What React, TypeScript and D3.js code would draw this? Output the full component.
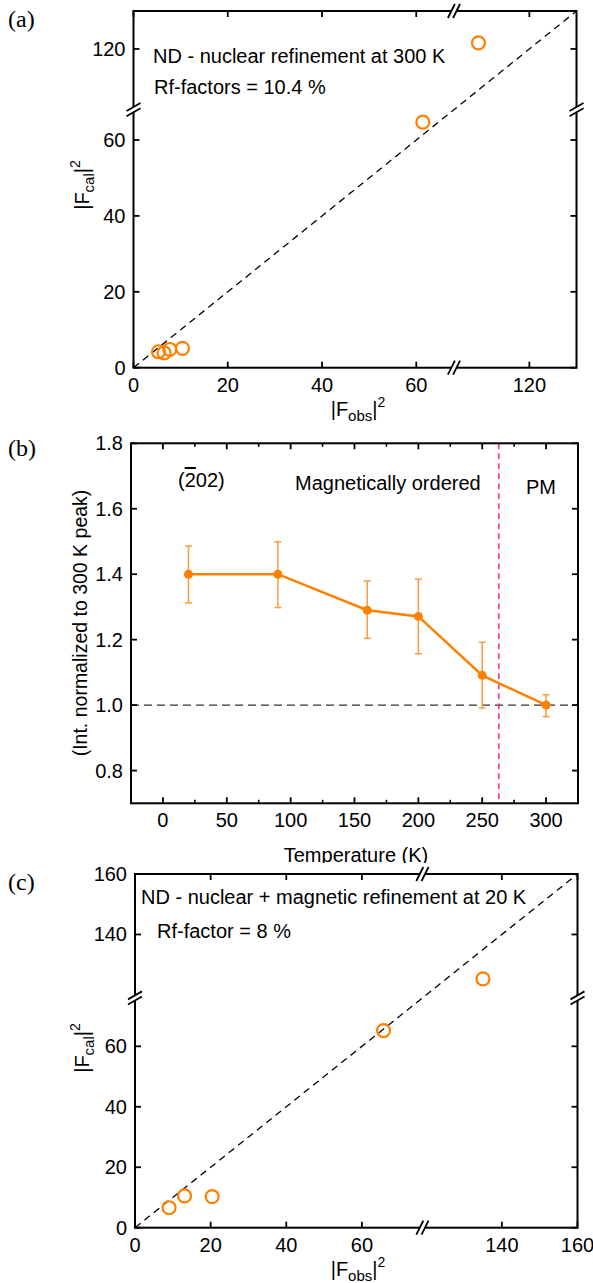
import * as d3 from "d3";

const FONT = "'Liberation Sans', Arial, Helvetica, sans-serif";
const SERIF = "'Liberation Serif', 'Times New Roman', serif";
const FS = 20;
const ORANGE = "#ff8000";
const ERR_ORANGE = "#ff9a3c";

// (a) nuclear refinement at 300 K
const aObs = [5.3, 6.5, 7.7, 10.4, 61.4, 109.2];
const aCal = [4.2, 3.9, 4.8, 5.1, 64.7, 121.6];
const aTicks = [0, 20, 40, 60, 120];
const aDomain = [0, 68, 104, 130];

// (b) (-202) intensity vs temperature
const temps = [20, 90, 160, 200, 250, 300];
const intensity = [1.4, 1.4, 1.29, 1.271, 1.091, 1.0];
const errHigh = [1.486, 1.499, 1.379, 1.385, 1.192, 1.032];
const errLow = [1.312, 1.298, 1.204, 1.157, 0.991, 0.965];
const bXTicks = [0, 50, 100, 150, 200, 250, 300];
const bXMinor = [25, 75, 125, 175, 225, 275];
const bYTicks = [0.8, 1.0, 1.2, 1.4, 1.6, 1.8];
const tOrder = 263;

// (c) nuclear + magnetic refinement at 20 K
const cObs = [9.0, 13.1, 20.4, 65.7, 135];
const cCal = [6.6, 10.5, 10.3, 65.2, 125.3];
const cTicks = [0, 20, 40, 60, 140, 160];
const cDomain = [0, 76, 119, 160];

type Box = { left: number; right: number; top: number; bottom: number };

function brokenScale(domain: number[], r0: number, r1: number) {
  const span = domain[1] - domain[0] + (domain[3] - domain[2]);
  const mid = r0 + ((domain[1] - domain[0]) / span) * (r1 - r0);
  return d3.scaleLinear().domain(domain).range([r0, mid, mid, r1]);
}

function HBreak({ x, y }: { x: number; y: number }) {
  const pts = [-2.6, 2.6].map((o) => [
    [x + o - 3.5, y + 7],
    [x + o + 3.5, y - 7],
  ]);
  return (
    <g>
      <polygon
        points={`${pts[0][0]} ${pts[0][1]} ${pts[1][1]} ${pts[1][0]}`.replace(/,/g, " ")}
        fill="white"
      />
      {pts.map((p, i) => (
        <line key={i} x1={p[0][0]} y1={p[0][1]} x2={p[1][0]} y2={p[1][1]} stroke="black" strokeWidth={1.8} />
      ))}
    </g>
  );
}

function VBreak({ x, y }: { x: number; y: number }) {
  const pts = [-2.6, 2.6].map((o) => [
    [x - 7, y + o + 4],
    [x + 7, y + o - 4],
  ]);
  return (
    <g>
      <polygon
        points={`${pts[0][0]} ${pts[0][1]} ${pts[1][1]} ${pts[1][0]}`.replace(/,/g, " ")}
        fill="white"
      />
      {pts.map((p, i) => (
        <line key={i} x1={p[0][0]} y1={p[0][1]} x2={p[1][0]} y2={p[1][1]} stroke="black" strokeWidth={1.8} />
      ))}
    </g>
  );
}

function FLabel({ x, y, sub, rotate }: { x: number; y: number; sub: string; rotate?: boolean }) {
  return (
    <text
      x={x}
      y={y}
      transform={rotate ? `rotate(-90 ${x} ${y})` : undefined}
      textAnchor="middle"
      fontFamily={FONT}
      fontSize={FS}
    >
      |F
      <tspan dy={5} fontSize={15}>{sub}</tspan>
      <tspan dy={-5}>|</tspan>
      <tspan dy={-9} fontSize={14}>2</tspan>
    </text>
  );
}

function Scatter({
  box,
  domain,
  ticks,
  obs,
  cal,
  lines,
  yLabelY,
}: {
  box: Box;
  domain: number[];
  ticks: number[];
  obs: number[];
  cal: number[];
  lines: { text: string; x: number; y: number }[];
  yLabelY: number;
}) {
  const x = brokenScale(domain, box.left, box.right);
  const y = brokenScale(domain, box.bottom, box.top);
  const diag = domain.map((d) => `${x(d)},${y(d)}`).join(" ");
  const xb = x(domain[1]);
  const yb = y(domain[1]);
  return (
    <g>
      <polyline points={diag} fill="none" stroke="black" strokeWidth={1.3} strokeDasharray="7 5" />
      {obs.map((o, i) => (
        <circle key={i} cx={x(o)} cy={y(cal[i])} r={6.5} fill="none" stroke={ORANGE} strokeWidth={2.2} />
      ))}
      <rect x={box.left} y={box.top} width={box.right - box.left} height={box.bottom - box.top} fill="none" stroke="black" strokeWidth={2} />
      {ticks.map((t) => (
        <g key={t}>
          <line x1={x(t)} x2={x(t)} y1={box.bottom} y2={box.bottom - 6} stroke="black" strokeWidth={1.8} />
          <line x1={x(t)} x2={x(t)} y1={box.top} y2={box.top + 6} stroke="black" strokeWidth={1.8} />
          <line x1={box.left} x2={box.left + 6} y1={y(t)} y2={y(t)} stroke="black" strokeWidth={1.8} />
          <line x1={box.right} x2={box.right - 6} y1={y(t)} y2={y(t)} stroke="black" strokeWidth={1.8} />
          <text x={x(t)} y={box.bottom + 24} textAnchor="middle" fontFamily={FONT} fontSize={FS}>{t}</text>
          <text x={box.left - 8} y={y(t)} dy="0.35em" textAnchor="end" fontFamily={FONT} fontSize={FS}>{t}</text>
        </g>
      ))}
      <HBreak x={xb} y={box.bottom} />
      <HBreak x={xb} y={box.top} />
      <VBreak x={box.left} y={yb} />
      <VBreak x={box.right} y={yb} />
      {lines.map((l, i) => (
        <text key={i} x={l.x} y={l.y} fontFamily={FONT} fontSize={FS}>{l.text}</text>
      ))}
      <FLabel x={358} y={box.bottom + 48} sub="obs" />
      <FLabel x={89} y={yLabelY} sub="cal" rotate />
    </g>
  );
}

function TempPanel({ box }: { box: Box }) {
  const x = d3.scaleLinear().domain([-25, 325]).range([box.left, box.right]);
  const y = d3.scaleLinear().domain([0.7, 1.8]).range([box.bottom, box.top]);
  const line = d3
    .line<number>()
    .x((d, i) => x(temps[i]))
    .y((d) => y(d));
  return (
    <g>
      <line x1={box.left} x2={box.right} y1={y(1)} y2={y(1)} stroke="#333" strokeWidth={1.4} strokeDasharray="8 5" />
      <line x1={x(tOrder)} x2={x(tOrder)} y1={box.top} y2={box.bottom} stroke="#ff1a8c" strokeWidth={1.4} strokeDasharray="6 4" />
      {temps.map((t, i) => (
        <g key={t} stroke={ERR_ORANGE} strokeWidth={1.5}>
          <line x1={x(t)} x2={x(t)} y1={y(errHigh[i])} y2={y(errLow[i])} />
          <line x1={x(t) - 3.5} x2={x(t) + 3.5} y1={y(errHigh[i])} y2={y(errHigh[i])} />
          <line x1={x(t) - 3.5} x2={x(t) + 3.5} y1={y(errLow[i])} y2={y(errLow[i])} />
        </g>
      ))}
      <path d={line(intensity) || ""} fill="none" stroke={ORANGE} strokeWidth={2.5} />
      {temps.map((t, i) => (
        <circle key={t} cx={x(t)} cy={y(intensity[i])} r={4.5} fill={ORANGE} />
      ))}
      <rect x={box.left} y={box.top} width={box.right - box.left} height={box.bottom - box.top} fill="none" stroke="black" strokeWidth={2} />
      {bXTicks.map((t) => (
        <g key={t}>
          <line x1={x(t)} x2={x(t)} y1={box.bottom} y2={box.bottom - 6} stroke="black" strokeWidth={1.8} />
          <line x1={x(t)} x2={x(t)} y1={box.top} y2={box.top + 6} stroke="black" strokeWidth={1.8} />
          <text x={x(t)} y={box.bottom + 23.5} textAnchor="middle" fontFamily={FONT} fontSize={FS}>{t}</text>
        </g>
      ))}
      {bXMinor.map((t) => (
        <g key={t}>
          <line x1={x(t)} x2={x(t)} y1={box.bottom} y2={box.bottom - 3.5} stroke="black" strokeWidth={1.6} />
          <line x1={x(t)} x2={x(t)} y1={box.top} y2={box.top + 3.5} stroke="black" strokeWidth={1.6} />
        </g>
      ))}
      {bYTicks.map((t) => (
        <g key={t}>
          <line x1={box.left} x2={box.left + 6} y1={y(t)} y2={y(t)} stroke="black" strokeWidth={1.8} />
          <line x1={box.right} x2={box.right - 6} y1={y(t)} y2={y(t)} stroke="black" strokeWidth={1.8} />
          <text x={box.left - 8} y={y(t)} dy="0.35em" textAnchor="end" fontFamily={FONT} fontSize={FS}>{t.toFixed(1)}</text>
        </g>
      ))}
      <text x={178} y={487} fontFamily={FONT} fontSize={FS}>
        (<tspan style={{ textDecoration: "overline" }}>2</tspan>02)
      </text>
      <text x={295} y={490} fontFamily={FONT} fontSize={FS}>Magnetically ordered</text>
      <text x={526} y={494} fontFamily={FONT} fontSize={FS}>PM</text>
      <text x={356} y={862} textAnchor="middle" fontFamily={FONT} fontSize={FS}>Temperature (K)</text>
      <text x={87} y={623} transform="rotate(-90 87 623)" textAnchor="middle" fontFamily={FONT} fontSize={19.5}>
        (Int. normalized to 300 K peak)
      </text>
    </g>
  );
}

export default function App() {
  const boxA: Box = { left: 133.5, right: 576.5, top: 11, bottom: 367.7 };
  const boxB: Box = { left: 131, right: 578, top: 443.3, bottom: 803.3 };
  const boxC: Box = { left: 135, right: 577.5, top: 874, bottom: 1227.7 };
  return (
    <svg width={593} height={1283} style={{ position: "absolute", left: 0, top: 0, background: "white" }}>
      <rect width={593} height={1283} fill="white" />
      <Scatter
        box={boxA}
        domain={aDomain}
        ticks={aTicks}
        obs={aObs}
        cal={aCal}
        yLabelY={185}
        lines={[
          { text: "ND - nuclear refinement at 300 K", x: 153, y: 63 },
          { text: "Rf-factors = 10.4 %", x: 154, y: 94 },
        ]}
      />
      <TempPanel box={boxB} />
      <rect x={0} y={863} width={593} height={10} fill="white" />
      <Scatter
        box={boxC}
        domain={cDomain}
        ticks={cTicks}
        obs={cObs}
        cal={cCal}
        yLabelY={1048}
        lines={[
          { text: "ND - nuclear + magnetic refinement at 20 K", x: 141, y: 904 },
          { text: "Rf-factor = 8 %", x: 157, y: 938 },
        ]}
      />
      <text x={8} y={27} fontFamily={SERIF} fontSize={24}>(a)</text>
      <text x={8} y={456} fontFamily={SERIF} fontSize={24}>(b)</text>
      <text x={8} y={890} fontFamily={SERIF} fontSize={24}>(c)</text>
    </svg>
  );
}
